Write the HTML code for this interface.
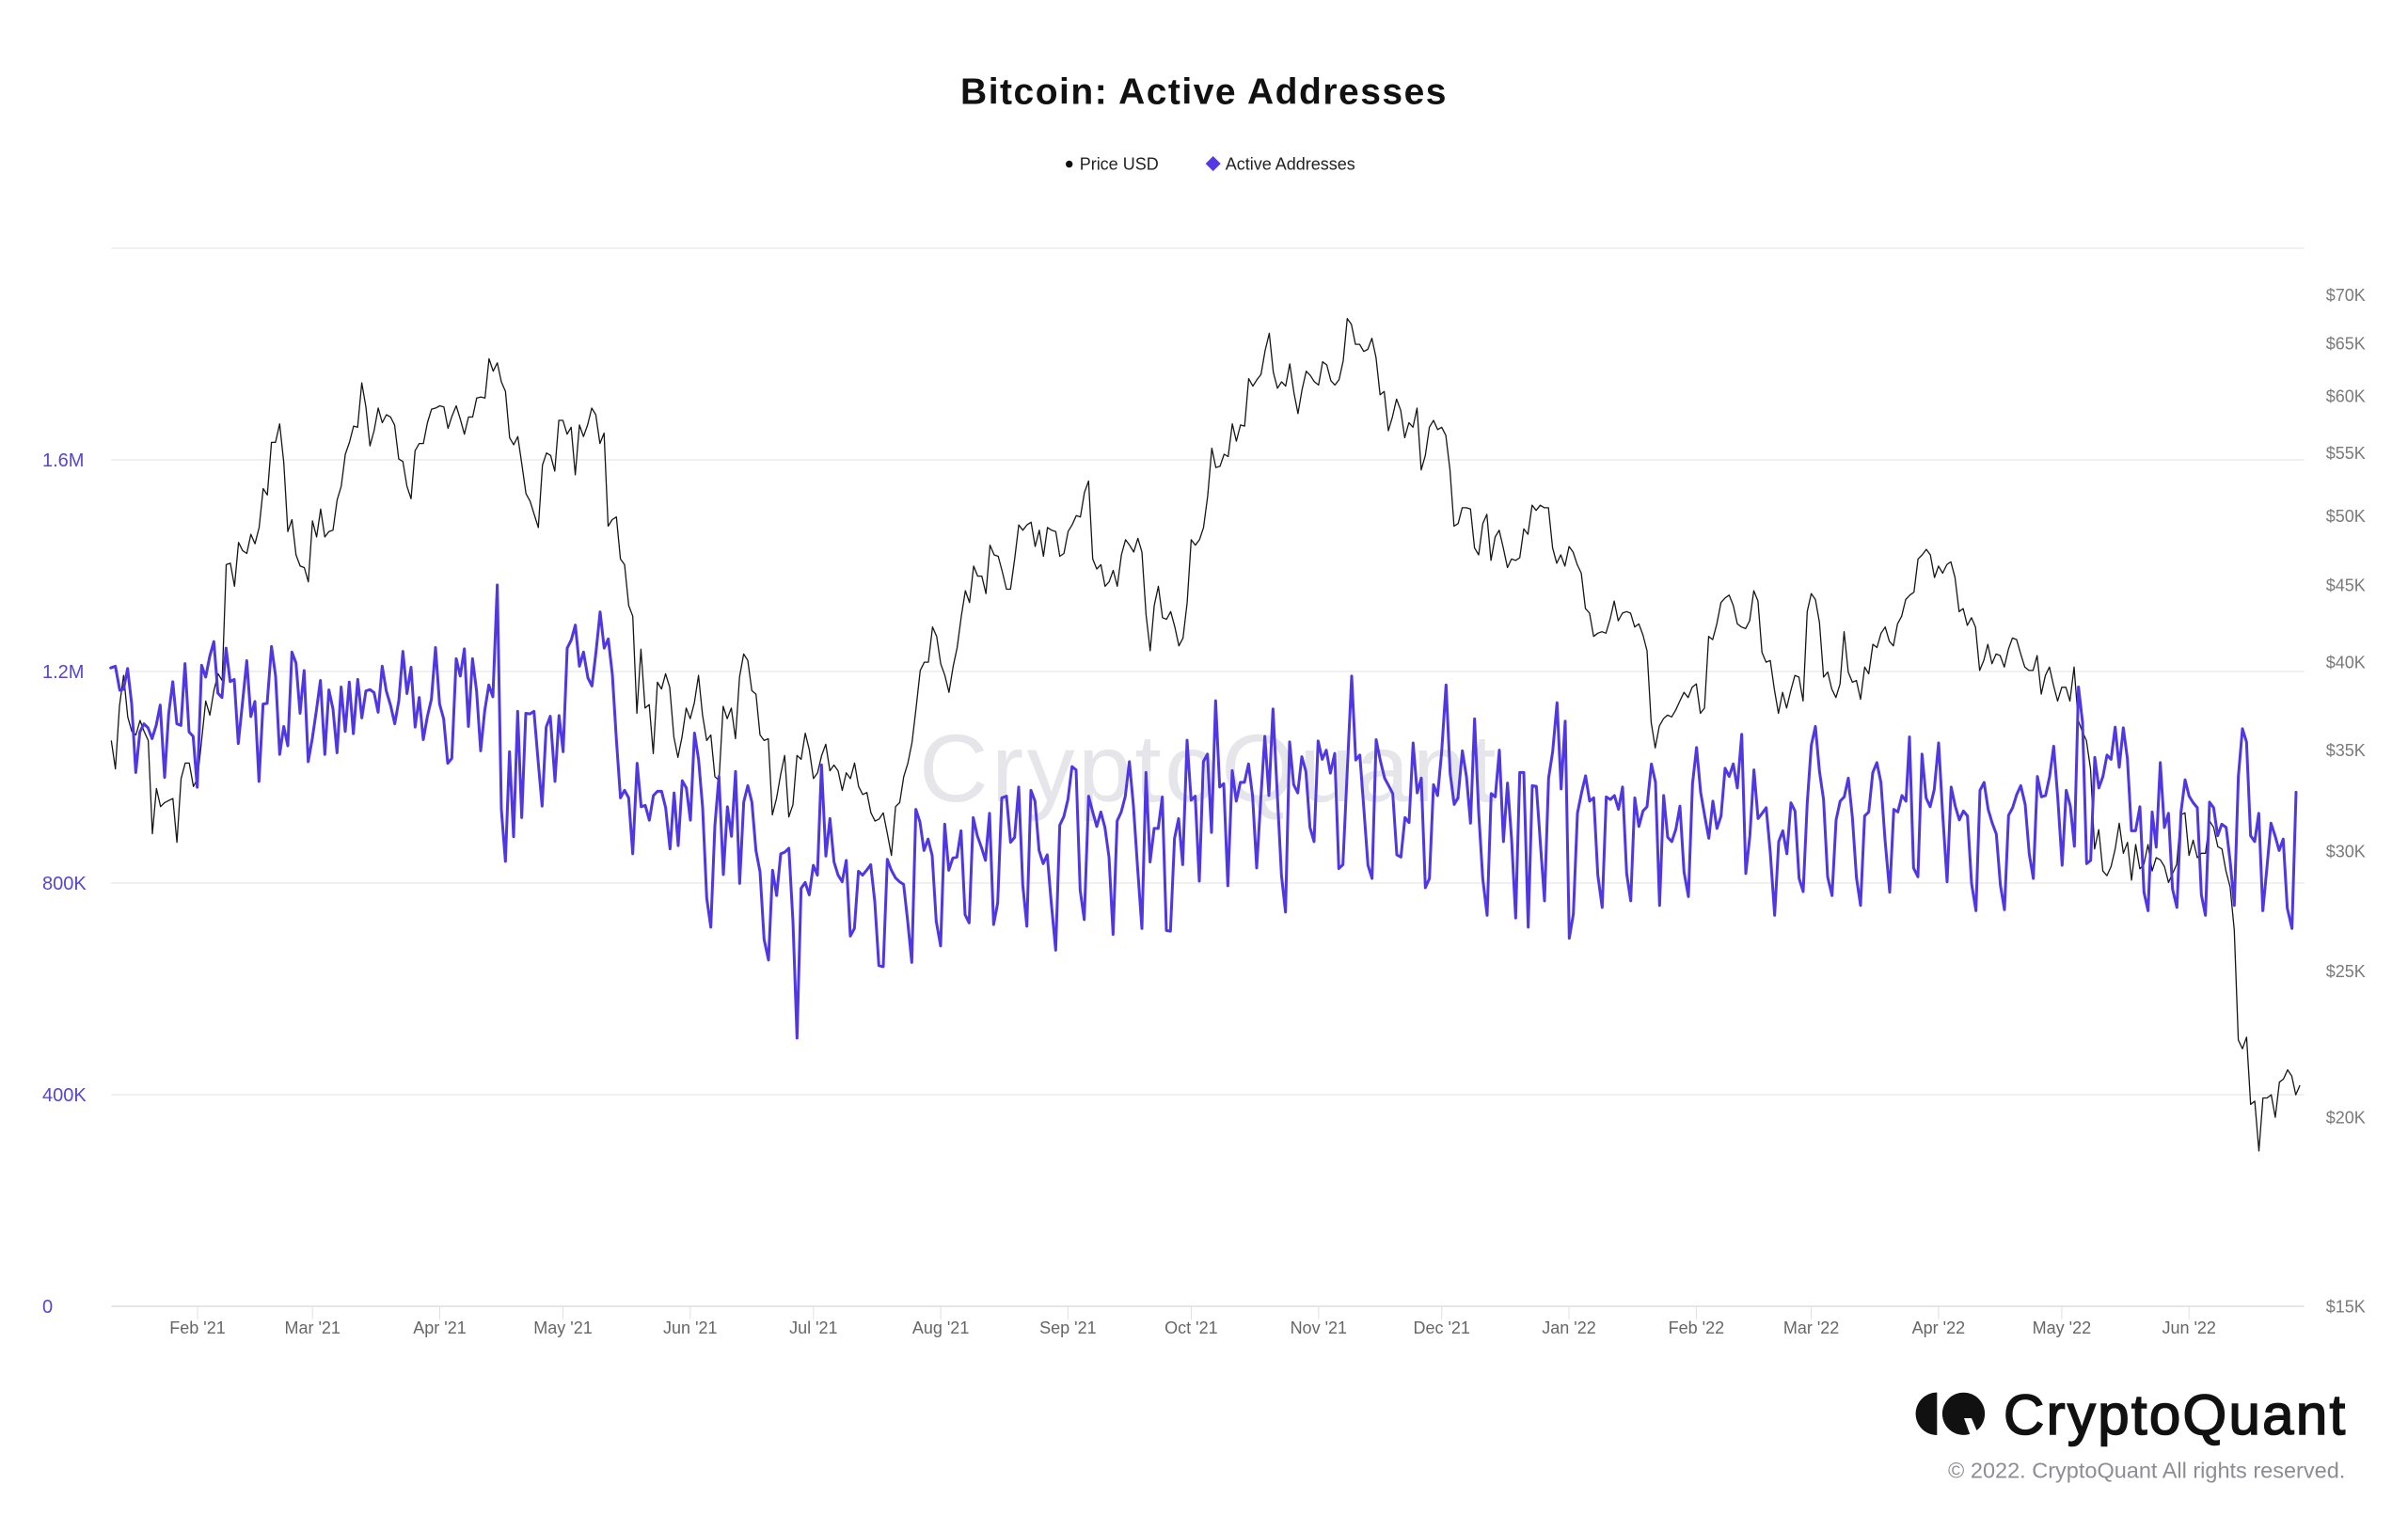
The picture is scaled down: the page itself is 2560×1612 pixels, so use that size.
<!DOCTYPE html>
<html>
<head>
<meta charset="utf-8">
<style>
  html,body{margin:0;padding:0;background:#fff;}
  body{width:2560px;height:1612px;overflow:hidden;}
  svg{display:block;font-family:"Liberation Sans",Arial,sans-serif;}
</style>
</head>
<body>
<svg width="2560" height="1612" viewBox="0 0 2560 1612" xmlns="http://www.w3.org/2000/svg">
  <rect x="0" y="0" width="2560" height="1612" fill="#ffffff"/>

  <!-- Title -->
  <text x="1280" y="110.5" text-anchor="middle" font-size="39" font-weight="bold" letter-spacing="1.5" fill="#111111">Bitcoin: Active Addresses</text>

  <!-- Legend -->
  <circle cx="1136.7" cy="174.5" r="3.7" fill="#111111"/>
  <text x="1147.7" y="180.7" font-size="18" fill="#222222">Price USD</text>
  <polygon points="1289.7,166 1297.7,174 1289.7,182 1281.7,174" fill="#5437e6"/>
  <text x="1302.7" y="180.7" font-size="18" fill="#222222">Active Addresses</text>

  <!-- Watermark -->
  <text x="977" y="852" font-size="102" letter-spacing="3.5" fill="#e5e5ea">CryptoQuant</text>

  <!-- Gridlines -->
  <g stroke="#e6e6e6" stroke-width="1.3">
    <line x1="118.3" y1="264" x2="2449.5" y2="264"/>
    <line x1="118.3" y1="489" x2="2449.5" y2="489"/>
    <line x1="118.3" y1="714" x2="2449.5" y2="714"/>
    <line x1="118.3" y1="939" x2="2449.5" y2="939"/>
    <line x1="118.3" y1="1164" x2="2449.5" y2="1164"/>
  </g>
  <line x1="118.3" y1="1389" x2="2449.5" y2="1389" stroke="#dedede" stroke-width="1.6"/>

  <!-- X ticks -->
  <g stroke="#e0e0e0" stroke-width="1">
    <line x1="210" y1="1389" x2="210" y2="1403"/>
    <line x1="332.2" y1="1389" x2="332.2" y2="1403"/>
    <line x1="467.5" y1="1389" x2="467.5" y2="1403"/>
    <line x1="598.5" y1="1389" x2="598.5" y2="1403"/>
    <line x1="733.8" y1="1389" x2="733.8" y2="1403"/>
    <line x1="864.8" y1="1389" x2="864.8" y2="1403"/>
    <line x1="1000.1" y1="1389" x2="1000.1" y2="1403"/>
    <line x1="1135.4" y1="1389" x2="1135.4" y2="1403"/>
    <line x1="1266.4" y1="1389" x2="1266.4" y2="1403"/>
    <line x1="1401.8" y1="1389" x2="1401.8" y2="1403"/>
    <line x1="1532.7" y1="1389" x2="1532.7" y2="1403"/>
    <line x1="1668.0" y1="1389" x2="1668.0" y2="1403"/>
    <line x1="1803.4" y1="1389" x2="1803.4" y2="1403"/>
    <line x1="1925.6" y1="1389" x2="1925.6" y2="1403"/>
    <line x1="2060.9" y1="1389" x2="2060.9" y2="1403"/>
    <line x1="2191.9" y1="1389" x2="2191.9" y2="1403"/>
    <line x1="2327.2" y1="1389" x2="2327.2" y2="1403"/>
  </g>

  <!-- X labels -->
  <g font-size="18" fill="#666666" text-anchor="middle">
    <text x="210" y="1418">Feb '21</text>
    <text x="332.2" y="1418">Mar '21</text>
    <text x="467.5" y="1418">Apr '21</text>
    <text x="598.5" y="1418">May '21</text>
    <text x="733.8" y="1418">Jun '21</text>
    <text x="864.8" y="1418">Jul '21</text>
    <text x="1000.1" y="1418">Aug '21</text>
    <text x="1135.4" y="1418">Sep '21</text>
    <text x="1266.4" y="1418">Oct '21</text>
    <text x="1401.8" y="1418">Nov '21</text>
    <text x="1532.7" y="1418">Dec '21</text>
    <text x="1668.0" y="1418">Jan '22</text>
    <text x="1803.4" y="1418">Feb '22</text>
    <text x="1925.6" y="1418">Mar '22</text>
    <text x="2060.9" y="1418">Apr '22</text>
    <text x="2191.9" y="1418">May '22</text>
    <text x="2327.2" y="1418">Jun '22</text>
  </g>

  <!-- Left axis labels -->
  <g font-size="20" fill="#5546d6">
    <text x="45" y="1396">0</text>
    <text x="45" y="1171">400K</text>
    <text x="45" y="946">800K</text>
    <text x="45" y="721">1.2M</text>
    <text x="45" y="496">1.6M</text>
  </g>

  <!-- Right axis labels -->
  <g font-size="18" fill="#7a7a7a">
    <text x="2472.7" y="1395.5">$15K</text>
    <text x="2472.7" y="1194.6">$20K</text>
    <text x="2472.7" y="1038.8">$25K</text>
    <text x="2472.7" y="911.5">$30K</text>
    <text x="2472.7" y="803.8">$35K</text>
    <text x="2472.7" y="710.6">$40K</text>
    <text x="2472.7" y="628.3">$45K</text>
    <text x="2472.7" y="554.8">$50K</text>
    <text x="2472.7" y="488.2">$55K</text>
    <text x="2472.7" y="427.4">$60K</text>
    <text x="2472.7" y="371.6">$65K</text>
    <text x="2472.7" y="319.8">$70K</text>
  </g>

  <!-- Price USD series (generated) -->
  <polyline id="price" fill="none" stroke="#161616" stroke-width="1.3" stroke-linejoin="round" points=""/>

  <!-- Active Addresses series (traced) -->
  <g fill="none" stroke="#4f37e3" stroke-width="3" stroke-linejoin="round" stroke-linecap="round">
    <polyline vector-effect="non-scaling-stroke" transform="translate(110,580.7) scale(0.33333,0.3499)" points="23,370 38,365 52,438 64,435 77,372 90,480 103,688 116,565 129,540 142,552 155,585 168,545 181,483 195,703 208,510 221,412 234,540 247,545 260,357 273,565 286,578 299,733 313,362 326,398 339,335 352,290 365,447 378,460 391,310 404,412 417,405 430,600 443,480 457,348 470,518 483,472 496,715 509,480 522,478 536,305 549,395 562,633 575,548 588,607 601,322 614,355 627,508 640,378 653,655 666,585 679,500 692,408 706,633 719,437 732,495 745,628 758,428 771,563 784,413 797,570 811,405 824,522 837,440 850,436 863,445 876,505 889,365 902,440 916,485 929,540 942,470 955,320 968,448 981,368 994,550 1007,460 1020,588 1033,518 1046,465 1059,308 1072,480 1085,525 1098,660 1111,645 1125,342 1138,395 1151,312 1164,548 1177,342 1190,440 1203,622 1216,500 1229,422 1242,458 1256,118 1269,800 1282,958 1295,625 1308,883 1321,502 1334,825 1347,508 1360,510 1373,502 1386,650 1399,790 1412,550 1425,517 1440,712"/>
    <polyline vector-effect="non-scaling-stroke" transform="translate(590,580.7) scale(0.33333,0.3499)" points="0,715 13,515 26,625 39,310 52,285 65,240 78,365 91,322 105,400 118,425 131,320 144,200 157,310 170,282 183,390 196,590 209,765 222,742 235,765 248,935 262,660 275,792 288,788 301,833 314,758 327,745 340,745 353,795 367,920 380,750 393,910 406,713 419,735 432,833 445,568 458,648 471,795 484,1070 497,1158 510,850 523,700 537,998 550,792 563,882 576,685 589,1025 602,778 615,728 628,778 641,925 654,990 667,1195 681,1258 694,985 707,1062 720,935 733,930 746,918 759,1140 772,1495 785,1040 798,1022 811,1060 824,970 837,1000 850,665 864,942 877,828 890,960 903,1000 916,1020 929,955 942,1185 955,1162 968,988 981,1000 994,985 1007,968 1020,1080 1033,1275 1047,1278 1060,952 1073,985 1086,1008 1099,1020 1112,1028 1125,1140 1138,1265 1151,800 1164,838 1177,925 1190,890 1203,940 1216,1140 1230,1215 1243,845 1256,985 1269,948 1282,945 1295,865 1308,1120 1321,1145 1334,825 1347,880 1360,915 1373,955 1386,812 1399,1150 1412,1085 1425,765 1440,760"/>
    <polyline vector-effect="non-scaling-stroke" transform="translate(1070,580.7) scale(0.33333,0.3499)" points="0,760 13,900 26,885 39,732 52,1030 65,1155 78,742 91,775 104,925 117,965 130,938 143,1085 157,1228 170,848 183,822 196,770 209,670 222,680 235,1045 248,1135 262,760 275,808 288,852 301,808 314,855 327,945 340,1180 353,835 366,808 379,760 392,655 405,790 418,975 432,1162 445,688 458,960 471,858 484,858 497,762 510,1168 523,1170 536,888 549,828 562,968 576,590 589,772 602,760 615,1018 628,655 641,632 654,870 667,470 680,732 693,722 706,1032 720,682 733,775 746,718 759,718 772,662 785,760 798,978 811,770 824,578 837,758 850,495 864,758 877,1000 890,1112 903,595 916,725 929,750 942,640 955,685 968,855 981,898 994,592 1007,648 1020,620 1033,690 1047,630 1060,980 1073,968 1087,680 1101,395 1114,650 1127,635 1140,800 1153,970 1166,1010 1179,588 1192,650 1206,705 1219,728 1232,752 1245,938 1258,945 1271,825 1284,840 1297,598 1310,750 1323,705 1336,1038 1349,1010 1362,725 1375,758 1388,625 1402,422 1415,690 1428,785 1440,765"/>
    <polyline vector-effect="non-scaling-stroke" transform="translate(1550,580.7) scale(0.33333,0.3499)" points="0,765 14,622 27,700 40,842 53,525 66,808 79,1010 93,1122 106,752 119,762 132,620 145,898 158,720 171,890 184,1130 197,688 210,688 224,1158 237,728 250,730 263,905 276,1078 289,705 302,625 316,476 329,738 342,532 355,1192 368,1118 381,812 394,750 407,698 420,775 433,765 446,1000 460,1098 473,762 486,770 499,758 512,800 525,732 538,995 551,1078 564,765 577,852 590,805 603,792 617,662 630,718 643,1092 656,758 669,885 682,898 695,860 708,790 721,990 735,1065 748,722 761,612 774,748 787,820 800,888 813,775 826,858 839,820 852,675 865,700 878,662 891,735 905,572 918,995 931,880 944,680 957,828 970,812 983,795 996,930 1010,1122 1023,898 1036,865 1049,935 1062,780 1075,805 1088,1010 1101,1050 1114,780 1127,605 1140,548 1153,685 1166,770 1179,1005 1193,1062 1206,832 1219,775 1232,762 1245,705 1258,825 1271,1008 1284,1092 1297,820 1310,808 1323,688 1336,658 1349,718 1362,892 1377,1052 1390,800 1403,808 1416,758 1429,775 1440,582"/>
    <polyline vector-effect="non-scaling-stroke" transform="translate(2030,580.7) scale(0.33333,0.3499)" points="0,580 13,978 27,1005 40,632 53,765 66,792 79,740 93,598 106,815 120,1020 133,732 146,790 159,832 172,805 185,820 198,1025 212,1108 225,742 238,718 251,800 264,842 277,875 290,1030 303,1105 316,818 329,795 342,755 355,728 369,785 382,935 395,1010 408,700 421,762 434,758 447,700 460,608 473,765 487,970 500,742 513,790 526,912 539,428 552,535 565,965 578,955 591,642 604,735 617,700 630,635 643,648 656,550 669,672 682,552 695,645 708,865 721,865 735,792 748,1052 761,1108 774,808 787,915 800,658 813,855 826,812 839,1042 853,1098 866,808 879,710 892,760 905,780 918,795 931,1060 944,1122 957,778 970,795 983,880 996,845 1010,855 1023,960 1036,1092 1049,700 1062,555 1075,595 1088,880 1101,898 1114,812 1127,1108 1140,978 1153,842 1166,880 1179,925 1192,890 1205,1100 1220,1162 1233,748"/>
  </g>

  <!-- Logo -->
  <path d="M2059.3,1480.6 A22.7,22.7 0 0 0 2059.3,1526 Z" fill="#111111"/>
  <circle cx="2087.5" cy="1503.3" r="22.6" fill="#111111"/>
  <polygon points="2088,1508 2096,1508 2104,1527 2095,1527" fill="#ffffff"/>
  <text x="2130" y="1525" font-size="60" letter-spacing="2.3" fill="#111111" stroke="#111111" stroke-width="1.6">CryptoQuant</text>
  <text x="2493.3" y="1571.5" font-size="23.5" text-anchor="end" fill="#8c8c94">© 2022. CryptoQuant All rights reserved.</text>
</svg>

<script>
(function(){
  var P=[
  35.5,34.0,37.4,39.2,36.8,36.0,35.8,36.6,36.0,35.5,30.8,33.0,32.1,32.3,32.4,32.5,30.4,33.5,34.3,34.3,33.1,
  33.5,35.5,37.7,36.9,38.3,39.3,38.9,46.4,46.5,44.9,48.0,47.4,47.2,48.6,47.9,49.1,52.1,51.6,55.9,55.9,57.5,54.2,48.8,49.7,47.1,46.3,46.2,45.2,
  49.6,48.4,50.5,48.4,48.8,48.9,51.2,52.3,54.9,55.9,57.3,57.2,61.2,59.0,55.6,56.9,58.9,57.6,58.3,58.1,57.4,54.5,54.3,52.3,51.3,55.2,55.8,55.8,57.6,58.8,58.9,
  59.1,59.0,57.1,58.2,59.1,57.9,56.6,58.1,58.1,59.8,59.9,59.8,63.5,62.3,63.1,61.3,60.4,56.3,55.7,56.4,54.0,51.7,51.1,50.1,49.1,54.0,55.0,54.8,53.5,57.8,
  57.8,56.6,57.2,53.2,57.4,56.4,57.4,58.9,58.3,55.8,56.7,49.2,49.7,49.9,46.8,46.4,43.6,42.9,37.0,40.8,37.3,37.5,34.8,38.8,38.4,39.3,38.5,35.7,34.6,35.7,37.3,
  36.7,37.6,39.2,36.9,35.5,35.8,33.6,33.4,37.4,36.7,37.3,35.6,39.1,40.5,40.1,38.3,38.1,35.8,35.5,35.6,31.7,32.5,33.7,34.7,31.6,32.2,34.7,34.5,35.9,35.0,
  33.5,33.8,34.7,35.3,33.9,34.2,33.9,32.9,33.8,33.5,34.3,33.1,32.7,32.8,31.8,31.4,31.5,31.8,30.8,29.8,32.1,32.3,33.6,34.3,35.4,37.3,39.5,40.0,40.0,42.2,41.6,
  39.9,39.2,38.2,39.7,40.9,42.9,44.6,43.8,46.3,45.6,45.6,44.4,47.8,47.1,47.0,45.9,44.7,44.7,46.8,49.3,48.9,49.3,49.5,47.7,48.9,47.0,49.1,48.9,48.8,47.0,47.2,
  48.8,49.3,50.0,49.9,51.8,52.7,46.8,46.1,46.4,44.9,45.2,46.0,44.9,47.1,48.2,47.8,47.3,48.3,47.3,43.0,40.7,43.6,44.9,42.8,42.7,43.2,42.2,41.0,41.5,43.8,
  48.2,47.8,48.2,49.1,51.5,55.4,53.8,53.9,54.9,54.7,57.5,56.0,57.4,57.3,61.6,60.9,61.5,62.0,64.3,66.0,62.2,60.7,61.3,60.9,63.0,60.3,58.4,60.6,62.3,61.9,61.3,
  61.0,63.2,62.9,61.4,61.0,61.5,63.3,67.5,66.9,64.9,64.9,64.2,64.4,65.5,63.6,60.1,60.4,56.9,58.1,59.7,58.7,56.3,57.6,57.2,58.9,53.6,54.8,57.2,57.8,57.0,
  57.2,56.5,53.6,49.2,49.4,50.6,50.6,50.5,47.6,47.1,49.4,50.1,46.7,48.4,48.9,47.6,46.2,46.8,46.7,46.9,49.0,48.6,50.8,50.4,50.8,50.6,50.6,47.6,46.5,47.1,46.3,
  47.7,47.3,46.4,45.8,43.4,43.1,41.6,41.8,41.9,41.8,42.7,43.9,42.6,43.1,43.2,43.1,42.2,42.4,41.7,40.7,36.5,35.1,36.3,36.7,36.9,36.8,37.2,37.7,38.2,37.9,38.5,
  38.7,37.0,37.3,41.6,41.4,42.4,43.8,44.1,44.3,43.6,42.4,42.2,42.1,42.6,44.6,43.9,40.6,40.0,40.1,38.4,37.0,38.2,37.3,38.3,39.2,39.1,37.7,43.2,
  44.4,44.0,42.5,39.1,39.4,38.4,37.9,38.7,41.9,39.4,38.8,38.9,37.8,39.7,39.3,41.1,40.9,41.8,42.2,41.3,41.0,42.4,42.9,44.0,44.3,44.5,46.8,47.1,47.5,47.1,45.5,
  46.3,45.8,46.4,46.6,45.5,43.2,43.4,42.3,42.8,42.2,39.5,40.1,41.1,39.9,40.5,40.4,39.7,40.8,41.5,41.4,40.5,39.7,39.5,39.5,40.4,38.1,39.2,39.7,38.6,37.7,
  38.5,38.5,37.7,39.7,36.6,36.0,35.5,34.0,30.1,31.0,29.1,28.9,29.3,30.1,31.3,29.9,30.4,28.7,30.3,29.2,29.4,30.3,29.1,29.7,29.6,29.3,28.6,29.0,29.4,31.7,31.8,
  29.8,30.5,29.7,29.9,29.9,31.4,31.1,30.2,30.1,29.1,28.4,26.6,22.5,22.2,22.6,20.4,20.5,19.0,20.6,20.6,20.7,20.0,21.1,21.2,21.5,21.3,20.7,21.0
  ];
  var s=[];
  for(var i=0;i<P.length;i++){
    var x=118.3+i*4.3655;
    var y=1389-1607.9*(Math.log(P[i]/15)/Math.LN10);
    s.push(x.toFixed(1)+','+y.toFixed(1));
  }
  document.getElementById('price').setAttribute('points',s.join(' '));
})();
</script>
</body>
</html>
